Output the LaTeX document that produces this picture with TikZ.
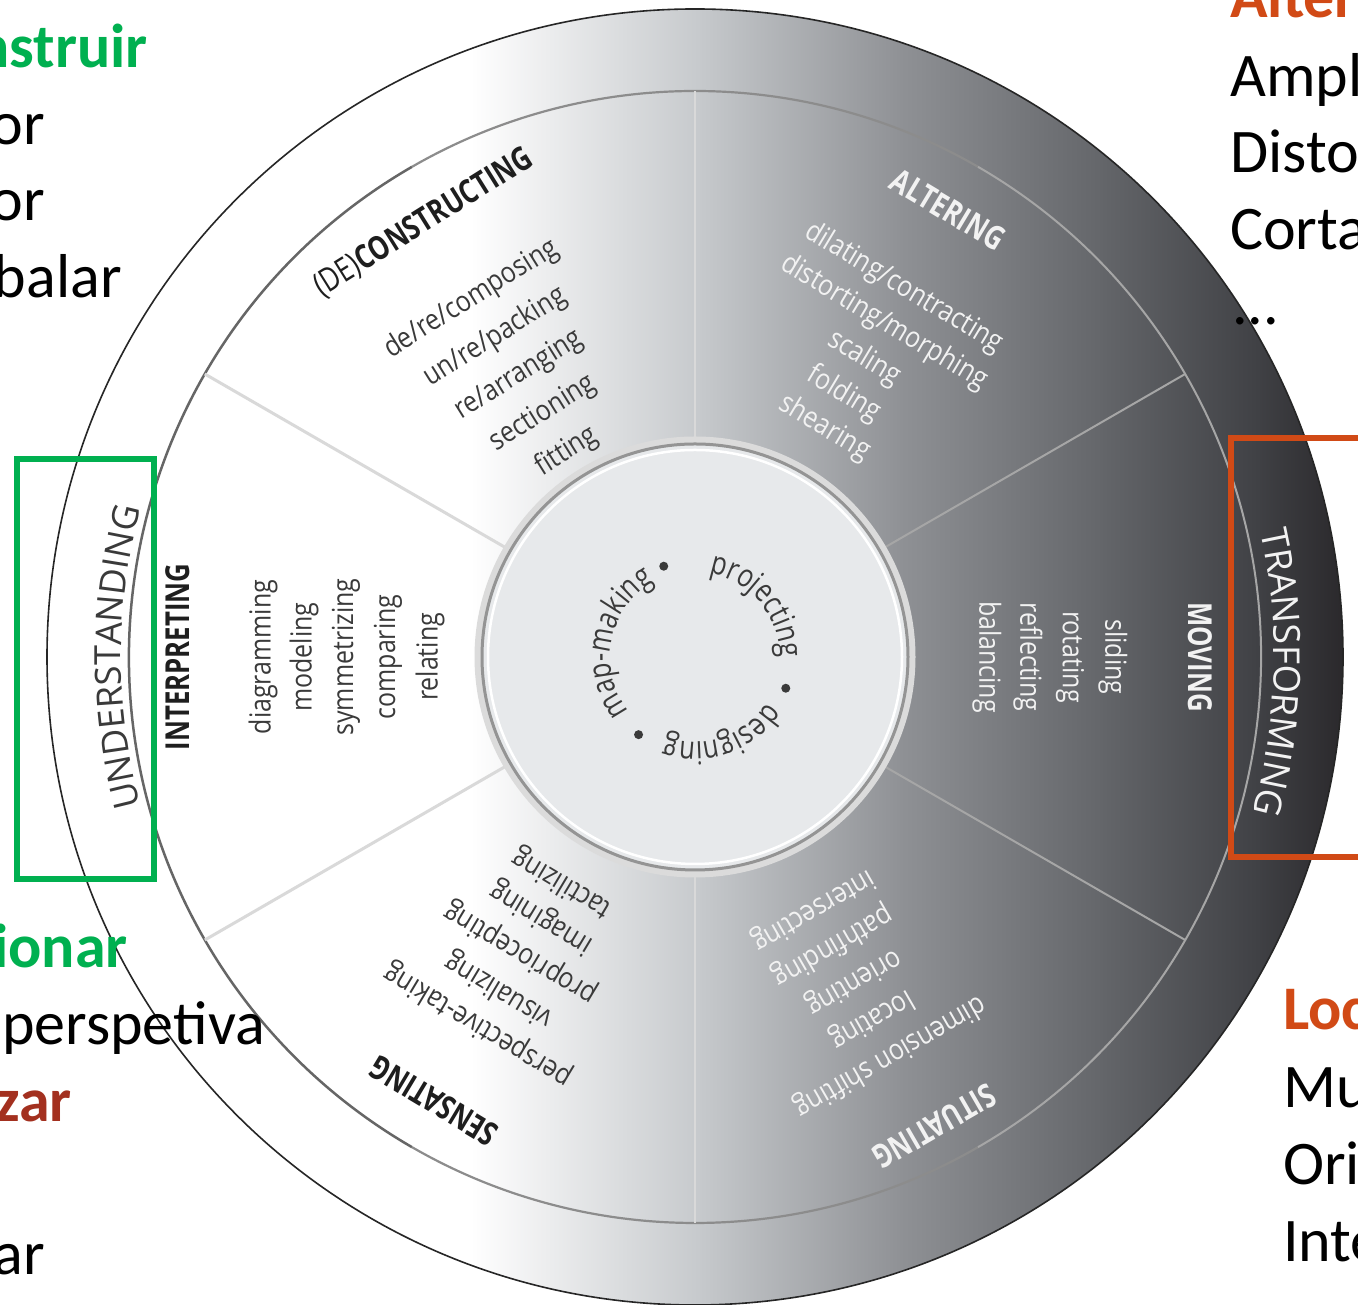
\documentclass[tikz,border=0pt]{standalone}
\usepackage{fontspec}
\setmainfont{Carlito}
\newfontfamily\wf[FakeStretch=0.86]{Open Sans}
\newfontfamily\cf[FakeStretch=0.8]{Open Sans}
\newfontfamily\tf[FakeStretch=0.78]{Open Sans}
\newfontfamily\rf{Open Sans}
\usetikzlibrary{decorations.text}
\definecolor{grn}{HTML}{00B050}
\definecolor{org}{HTML}{D14A16}
\definecolor{dred}{HTML}{A3301F}
\definecolor{ga}{HTML}{C6C9CC}
\definecolor{gb}{HTML}{8F9195}
\definecolor{gc}{HTML}{64666A}
\definecolor{gd}{HTML}{3F4044}
\definecolor{ge}{HTML}{29272A}
\definecolor{innerc}{HTML}{E7E9EB}
\definecolor{dk}{HTML}{1E1E1E}
\definecolor{md}{HTML}{3A3A3A}
\definecolor{wt}{HTML}{F2F2F2}
\begin{document}
\begin{tikzpicture}[x=1pt,y=1pt,
  itm/.style={font=\wf\fontsize{29}{31}\selectfont,inner sep=0pt},
  ttl/.style={font=\tf\bfseries\fontsize{33}{35}\selectfont,inner sep=0pt},
  side/.style={font=\fontsize{62}{74}\selectfont,inner sep=0pt},
  sidebold/.style={font=\bfseries\fontsize{62}{74}\selectfont,inner sep=0pt}]
\useasboundingbox (0,0) rectangle (1358,1305);
\clip (0,0) rectangle (1358,1305);
\fill[white] (0,0) rectangle (1358,1305);
\coordinate (C) at (695,648);
% shaded disc
\begin{scope}
  \clip (C) circle[radius=648];
  \fill[white] (40,0) rectangle (472,1305);
  \shade[left color=white,right color=ga] (470,0) rectangle (702,1305);
  \shade[left color=ga,right color=gb] (700,0) rectangle (902,1305);
  \shade[left color=gb,right color=gc] (900,0) rectangle (1102,1305);
  \shade[left color=gc,right color=gd] (1100,0) rectangle (1262,1305);
  \shade[left color=gd,right color=ge] (1260,0) rectangle (1350,1305);
\end{scope}
\begin{scope}[shift={(C)}]
  % middle circle
  \draw[line width=2.5,black!60] (120:566) arc[start angle=120,end angle=240,radius=566];
  \draw[line width=2.2,black!45] (60:566) arc[start angle=60,end angle=120,radius=566];
  \draw[line width=2.2,black!45] (240:566) arc[start angle=240,end angle=300,radius=566];
  \draw[line width=2,black!35] (-60:566) arc[start angle=-60,end angle=60,radius=566];
  % spokes
  \draw[line width=3,black!15] (150:213) -- (150:566);
  \draw[line width=3,black!15] (210:213) -- (210:566);
  \draw[line width=2,white!85!black] (90:213) -- (90:566);
  \draw[line width=2,white!85!black] (270:213) -- (270:566);
  \draw[line width=2,black!35] (30:213) -- (30:566);
  \draw[line width=2,black!35] (-30:213) -- (-30:566);
  % inner disc
  \draw[line width=7,black!14] (0,0) circle[radius=217];
  \fill[innerc] (0,0) circle[radius=213];
  \draw[line width=3,black!42] (0,0) circle[radius=213];
  \draw[line width=2.5,white] (0,0) circle[radius=207];
  % outer outline
  \draw[line width=1.6,black!85] (0,0) circle[radius=648];

  % INTERPRETING
  \node[ttl,rotate=90,text=dk] (interp) at (180:517) {INTERPRETING};
  \node[itm,rotate=90,text=md] (in1) at (180:432) {diagramming};
  \node[itm,rotate=90,text=md] (in2) at (180:391) {modeling};
  \node[itm,rotate=90,text=md] (in3) at (180:349) {symmetrizing};
  \node[itm,rotate=90,text=md] (in4) at (180:307) {comparing};
  \node[itm,rotate=90,text=md] (in5) at (180:265) {relating};
  % (DE)CONSTRUCTING
  \node[ttl,rotate=32,text=dk] (decon) at (122:512) {\mdseries(DE)\bfseries CONSTRUCTING};
  \node[itm,rotate=32,text=md] (dc1) at (122:422) {de/re/composing};
  \node[itm,rotate=32,text=md] (dc2) at (122:377) {un/re/packing};
  \node[itm,rotate=32,text=md] (dc3) at (122:332) {re/arranging};
  \node[itm,rotate=32,text=md] (dc4) at (122:287) {sectioning};
  \node[itm,rotate=32,text=md] (dc5) at (122:242) {fitting};
  % ALTERING
  \node[ttl,rotate=-31,text=wt] (alter) at (60.5:514) {ALTERING};
  \node[itm,rotate=-31,text=wt] (al1) at (60.5:424) {dilating/contracting};
  \node[itm,rotate=-31,text=wt] (al2) at (60.5:384) {distorting/morphing};
  \node[itm,rotate=-31,text=wt] (al3) at (60.5:343) {scaling};
  \node[itm,rotate=-31,text=wt] (al4) at (60.5:302) {folding};
  \node[itm,rotate=-31,text=wt] (al5) at (60.5:263) {shearing};
  % MOVING
  \node[ttl,rotate=-90,text=wt] (moving) at (0:505) {MOVING};
  \node[itm,rotate=-90,text=wt] (mv1) at (0:418) {sliding};
  \node[itm,rotate=-90,text=wt] (mv2) at (0:375) {rotating};
  \node[itm,rotate=-90,text=wt] (mv3) at (0:333) {reflecting};
  \node[itm,rotate=-90,text=wt] (mv4) at (0:292) {balancing};
  % SITUATING
  \node[ttl,rotate=-150,text=wt] (situ) at (-63:527) {SITUATING};
  \node[itm,rotate=-150,text=wt] (st1) at (-64:444) {dimension shifting};
  \node[itm,rotate=-150,text=wt] (st2) at (-64:403) {locating};
  \node[itm,rotate=-150,text=wt] (st3) at (-64:361) {orienting};
  \node[itm,rotate=-150,text=wt] (st4) at (-64.5:320) {pathfinding};
  \node[itm,rotate=-150,text=wt] (st5) at (-65:279) {intersecting};
  % SENSATING
  \node[ttl,rotate=149,text=dk] (sens) at (239.5:515) {SENSATING};
  \node[itm,rotate=149,text=md] (se1) at (239.5:427) {perspective-taking};
  \node[itm,rotate=149,text=md] (se2) at (239.5:386) {visualizing};
  \node[itm,rotate=149,text=md] (se3) at (239.5:343) {propriocepting};
  \node[itm,rotate=149,text=md] (se4) at (239.5:302) {imagining};
  \node[itm,rotate=149,text=md] (se5) at (239.5:262) {tactilizing};

  % ring words
  \path[decorate,decoration={text along path,text align=center,text color=md,
    text={|\rf\fontsize{36}{36}\selectfont|UNDERSTANDING}}]
    (210:574) arc[start angle=210,end angle=150,radius=574];
  \path[decorate,decoration={text along path,text align=center,text color=wt,
    text={|\rf\fontsize{37}{37}\selectfont|TRANSFORMING}}]
    (28.5:579) arc[start angle=28.5,end angle=-31.5,radius=579];
  % centre words
  \path[decorate,decoration={text along path,text align=center,text color=md,
    text={|\cf\fontsize{32}{32}\selectfont|projecting}}]
    (100:85) arc[start angle=100,end angle=-20,radius=85];
  \path[decorate,decoration={text along path,text align=center,text color=md,
    text={|\cf\fontsize{32}{32}\selectfont|designing}}]
    (-11:85) arc[start angle=-11,end angle=-131,radius=85];
  \path[decorate,decoration={text along path,text align=center,text color=md,
    text={|\cf\fontsize{32}{32}\selectfont|map-making}}]
    (229:85) arc[start angle=229,end angle=109,radius=85];
  \fill[md] (109:96) circle[radius=4.5];
  \fill[md] (-19:96) circle[radius=4.5];
  \fill[md] (234:96) circle[radius=4.5];
\end{scope}

% boxes
\draw[grn,line width=5.5] (17,426) rectangle (154,846);
\draw[org,line width=5.5] (1231,448) rectangle (1400,867);

% side texts left
\node[sidebold,anchor=base east,text=grn] (l1) at (148,1237) {nstruir};
\node[side,anchor=base east] (l2) at (45,1160) {or};
\node[side,anchor=base east] (l3) at (45,1084) {or};
\node[side,anchor=base east] (l4) at (122,1007) {balar};
\node[sidebold,anchor=base east,text=grn] (l5) at (128,337) {ionar};
\node[side,anchor=base east] (l6) at (265,260) {perspetiva};
\node[sidebold,anchor=base east,text=dred] (l7) at (72,183) {zar};
\node[side,anchor=base east] (l8) at (45,30) {ar};
% side texts right
\node[sidebold,anchor=base west,text=org] (r1) at (1230,1287) {Alter};
\node[side,anchor=base west] (r2) at (1230,1208) {Ampl};
\node[side,anchor=base west] (r3) at (1230,1132) {Disto};
\node[side,anchor=base west] (r4) at (1230,1055) {Corta};
\node[side,anchor=base west] (r5) at (1232,980) {...};
\node[sidebold,anchor=base west,text=org] (r6) at (1283,275) {Loc};
\node[side,anchor=base west] (r7) at (1283,197) {Mu};
\node[side,anchor=base west] (r8) at (1283,120) {Ori};
\node[side,anchor=base west] (r9) at (1283,43) {Inte};
\end{tikzpicture}
\end{document}
